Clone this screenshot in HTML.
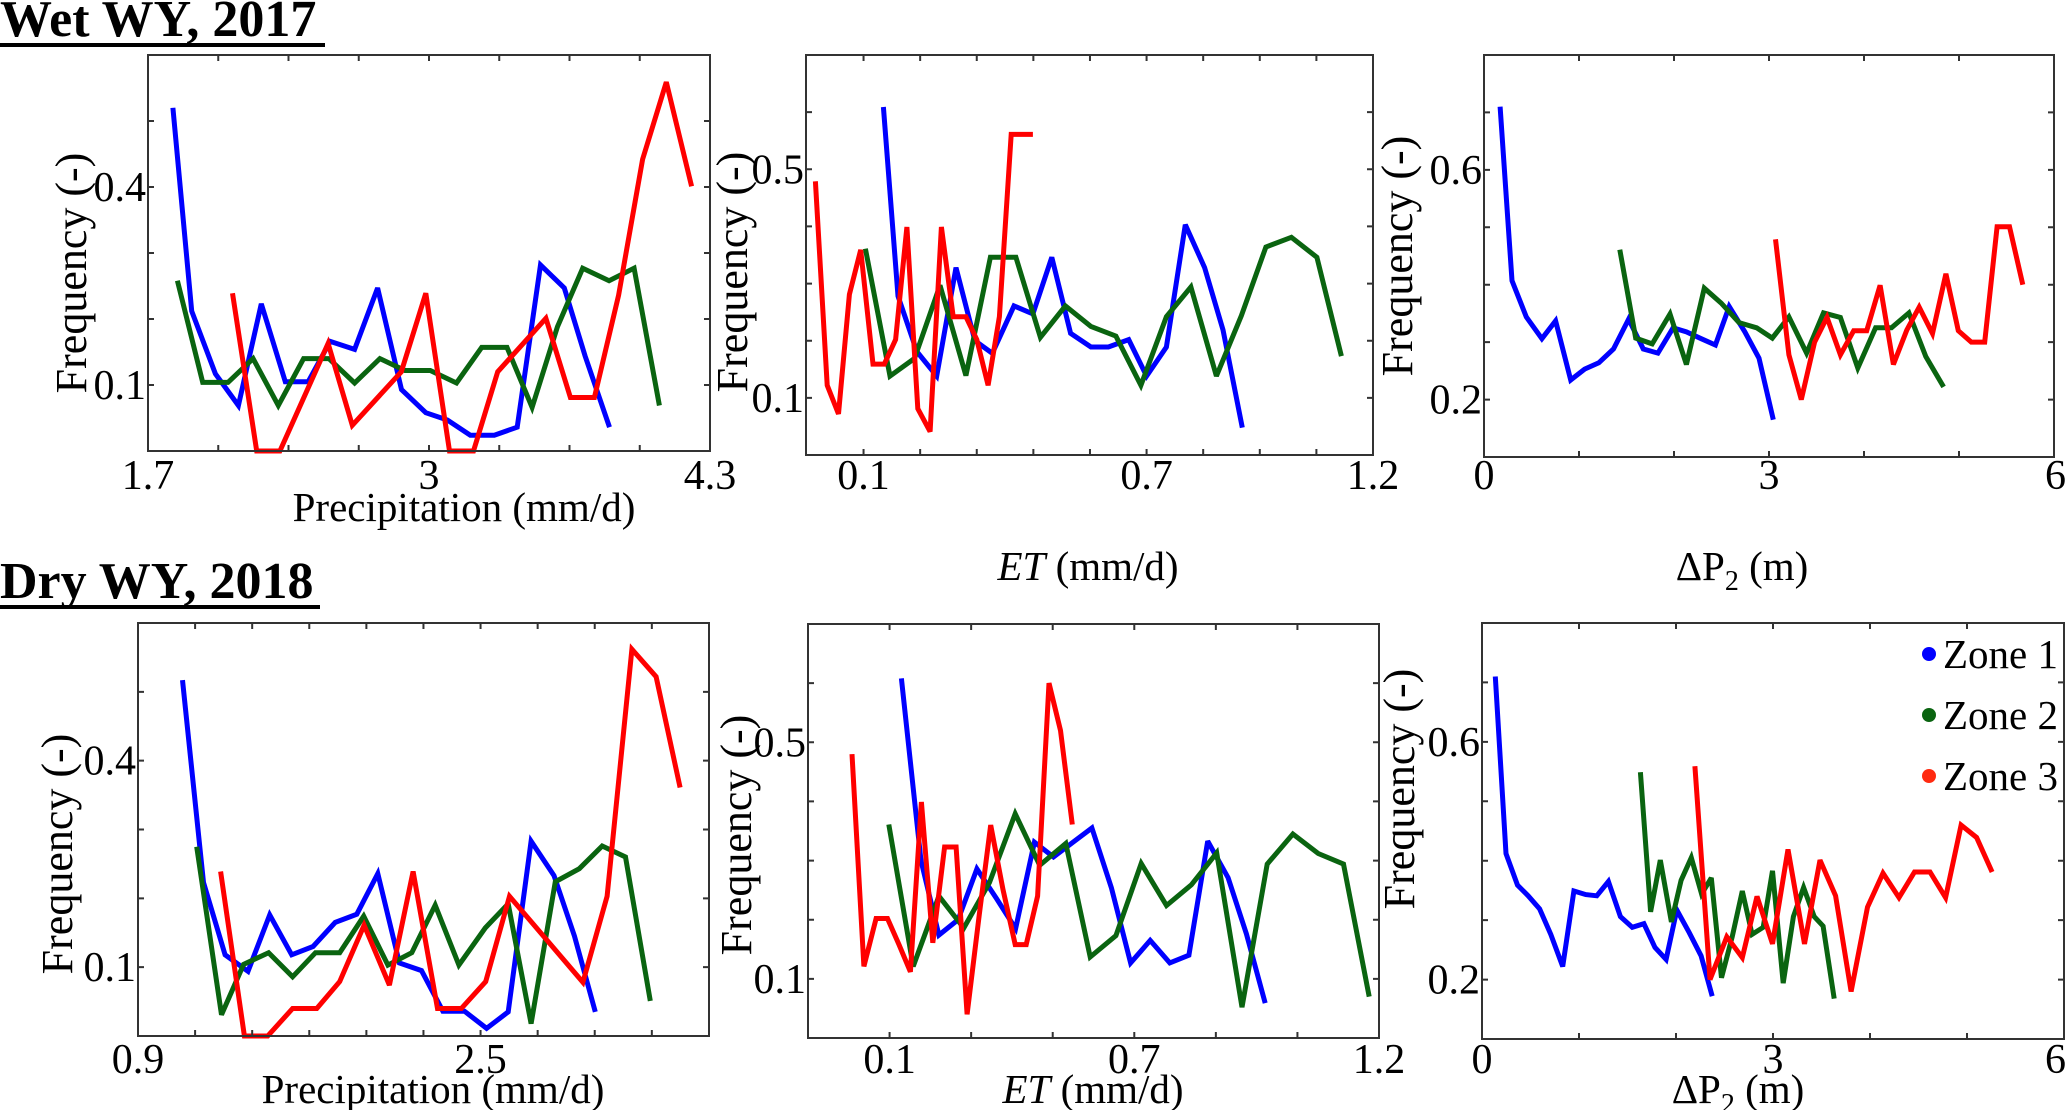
<!DOCTYPE html>
<html><head><meta charset="utf-8"><style>
html,body{margin:0;padding:0;background:#fff;}
svg{display:block;font-family:"Liberation Serif",serif;}
</style></head><body>
<svg id="fig" width="2067" height="1110" viewBox="0 0 2067 1110" xmlns="http://www.w3.org/2000/svg">
<text x="0" y="36" font-size="52" font-weight="bold">Wet WY, 2017</text>
<rect x="0" y="43" width="325" height="4" fill="#000"/>
<text x="0" y="598" font-size="52" font-weight="bold">Dry WY, 2018</text>
<rect x="0" y="605" width="320" height="4" fill="#000"/>
<g>
<circle cx="1929" cy="654" r="7" fill="#0000ff"/>
<text x="1943" y="668" font-size="41">Zone 1</text>
<circle cx="1929" cy="715" r="7" fill="#0a6410"/>
<text x="1943" y="729" font-size="41">Zone 2</text>
<circle cx="1929" cy="776" r="7" fill="#ff2a10"/>
<text x="1943" y="790" font-size="41">Zone 3</text>
</g>
</svg>
<script>
// ---- data (value units) ----
const p1BlueX=[1.815,1.902,2.012,2.118,2.224,2.335,2.441,2.543,2.656,2.762,2.873,2.985,3.085,3.191,3.302,3.408,3.516,3.626,3.722,3.835];
const p1BlueY=[0.520,0.212,0.117,0.069,0.223,0.105,0.105,0.166,0.154,0.247,0.093,0.058,0.047,0.024,0.024,0.036,0.282,0.247,0.144,0.036];
const p1GreenX=[1.836,1.953,2.070,2.186,2.303,2.420,2.537,2.656,2.773,2.889,3.006,3.127,3.244,3.361,3.477,3.594,3.711,3.833,3.949,4.066];
const p1GreenY=[0.258,0.104,0.104,0.140,0.069,0.140,0.140,0.103,0.140,0.122,0.122,0.103,0.157,0.157,0.066,0.188,0.277,0.258,0.277,0.069];
const p1RedX=[2.091,2.203,2.310,2.533,2.645,2.872,2.985,3.095,3.206,3.318,3.541,3.654,3.765,3.877,3.988,4.098,4.215];
const p1RedY=[0.239,0,0,0.163,0.039,0.120,0.239,0,0,0.120,0.201,0.081,0.081,0.236,0.442,0.559,0.401];

const p2BlueX=[0.142,0.173,0.213,0.255,0.296,0.336,0.373,0.419,0.459,0.499,0.539,0.582,0.619,0.662,0.700,0.742,0.782,0.823,0.862,0.903];
const p2BlueY=[0.609,0.278,0.181,0.138,0.328,0.200,0.178,0.261,0.247,0.346,0.213,0.189,0.189,0.202,0.138,0.189,0.403,0.328,0.219,0.048];
const p2GreenX=[0.104,0.156,0.208,0.262,0.317,0.369,0.423,0.475,0.528,0.582,0.635,0.688,0.742,0.794,0.848,0.901,0.953,1.007,1.061,1.113];
const p2GreenY=[0.361,0.138,0.169,0.297,0.139,0.346,0.346,0.206,0.261,0.225,0.208,0.122,0.242,0.294,0.138,0.244,0.364,0.381,0.346,0.173];
const p2RedX=[-0.002,0.023,0.047,0.070,0.094,0.120,0.144,0.168,0.192,0.215,0.241,0.265,0.290,0.317,0.340,0.364,0.388,0.413,0.459];
const p2RedY=[0.479,0.122,0.072,0.281,0.359,0.159,0.159,0.202,0.399,0.081,0.041,0.399,0.242,0.242,0.202,0.122,0.242,0.561,0.561];

const p3BlueX=[0.169,0.295,0.445,0.609,0.754,0.913,1.059,1.208,1.363,1.522,1.677,1.831,1.991,2.131,2.286,2.436,2.581,2.745,2.895,3.045];
const p3BlueY=[0.710,0.407,0.344,0.306,0.337,0.234,0.253,0.264,0.288,0.340,0.288,0.281,0.325,0.318,0.306,0.295,0.362,0.318,0.272,0.165];
const p3GreenX=[1.429,1.597,1.771,1.958,2.131,2.319,2.497,2.684,2.871,3.035,3.209,3.396,3.574,3.752,3.935,4.122,4.290,4.473,4.651,4.838];
const p3GreenY=[0.461,0.307,0.297,0.349,0.261,0.394,0.368,0.334,0.325,0.307,0.344,0.281,0.351,0.343,0.255,0.325,0.325,0.351,0.275,0.222];
const p3RedX=[3.068,3.209,3.340,3.480,3.611,3.752,3.892,4.028,4.169,4.309,4.450,4.581,4.721,4.862,4.993,5.129,5.270,5.401,5.532,5.672];
const p3RedY=[0.479,0.278,0.200,0.300,0.343,0.278,0.320,0.320,0.399,0.261,0.321,0.361,0.315,0.419,0.320,0.300,0.300,0.501,0.501,0.400];

const p4BlueX=[1.108,1.206,1.307,1.414,1.515,1.618,1.718,1.821,1.922,2.020,2.121,2.224,2.324,2.425,2.528,2.629,2.736,2.843,2.939,3.036];
const p4BlueY=[0.517,0.223,0.118,0.094,0.176,0.118,0.130,0.165,0.177,0.236,0.106,0.095,0.036,0.036,0.011,0.035,0.283,0.233,0.145,0.035];
const p4GreenX=[1.174,1.290,1.393,1.510,1.622,1.729,1.842,1.954,2.067,2.179,2.288,2.399,2.522,2.629,2.736,2.849,2.961,3.068,3.177,3.293];
const p4GreenY=[0.275,0.031,0.104,0.121,0.086,0.121,0.121,0.174,0.103,0.121,0.190,0.103,0.157,0.192,0.018,0.224,0.243,0.276,0.260,0.051];
const p4RedX=[1.286,1.397,1.506,1.622,1.735,1.842,1.956,2.074,2.185,2.299,2.410,2.524,2.635,2.978,3.091,3.207,3.320,3.432];
const p4RedY=[0.239,0,0,0.040,0.040,0.079,0.161,0.074,0.239,0.040,0.040,0.079,0.203,0.078,0.203,0.562,0.522,0.361];

const p5BlueX=[0.129,0.177,0.221,0.268,0.314,0.362,0.409,0.455,0.502,0.548,0.596,0.644,0.691,0.739,0.787,0.834,0.880,0.930,0.975,1.021];
const p5BlueY=[0.608,0.300,0.174,0.200,0.286,0.236,0.185,0.331,0.306,0.330,0.355,0.254,0.127,0.165,0.127,0.140,0.333,0.271,0.176,0.059];
const p5GreenX=[0.098,0.158,0.221,0.282,0.345,0.408,0.468,0.532,0.592,0.655,0.717,0.779,0.840,0.902,0.964,1.026,1.089,1.151,1.213,1.276];
const p5GreenY=[0.361,0.121,0.240,0.186,0.263,0.379,0.292,0.329,0.137,0.173,0.295,0.224,0.259,0.313,0.052,0.294,0.345,0.312,0.294,0.070];
const p5RedX=[0.008,0.037,0.067,0.095,0.123,0.151,0.178,0.206,0.235,0.263,0.290,0.320,0.348,0.378,0.408,0.435,0.463,0.491,0.519,0.548];
const p5RedY=[0.480,0.121,0.202,0.202,0.158,0.112,0.399,0.161,0.323,0.323,0.040,0.209,0.360,0.251,0.158,0.158,0.240,0.600,0.520,0.361];

const p6BlueX=[0.137,0.247,0.366,0.476,0.594,0.709,0.832,0.947,1.070,1.184,1.303,1.427,1.550,1.669,1.783,1.898,2.008,2.136,2.259,2.373];
const p6BlueY=[0.710,0.412,0.359,0.341,0.319,0.276,0.222,0.349,0.343,0.341,0.365,0.306,0.288,0.294,0.254,0.234,0.317,0.279,0.240,0.172];
const p6GreenX=[1.633,1.738,1.838,1.953,2.053,2.158,2.264,2.364,2.469,2.579,2.684,2.785,2.899,2.995,3.105,3.210,3.315,3.425,3.517,3.631];
const p6GreenY=[0.549,0.314,0.401,0.297,0.367,0.405,0.344,0.371,0.203,0.272,0.349,0.276,0.288,0.383,0.194,0.306,0.355,0.306,0.290,0.168];
const p6RedX=[2.195,2.351,2.524,2.684,2.835,2.995,3.155,3.325,3.485,3.645,3.805,3.974,4.134,4.299,4.459,4.619,4.779,4.939,5.099,5.259];
const p6RedY=[0.559,0.200,0.272,0.237,0.340,0.260,0.419,0.260,0.401,0.341,0.180,0.322,0.379,0.338,0.381,0.381,0.338,0.460,0.439,0.381];

// tick values and labels
const p1XTicks=[1.7,2.025,2.35,2.675,3.0,3.325,3.65,3.975,4.3];
const p1XTickLabels=[["1.7",1.7],["3",3.0],["4.3",4.3]];
const p1YTicks=[0.1,0.2,0.3,0.4,0.5];
const p1YTickLabels=[["0.1",0.1],["0.4",0.4]];
const p2XTicks=[0.1,0.22,0.34,0.46,0.58,0.7,0.82,0.94,1.06,1.18];
const p2XTickLabels=[["0.1",0.1],["0.7",0.7],["1.2",1.18]];
const p2YTicks=[0.1,0.2,0.3,0.4,0.5,0.6];
const p2YTickLabels=[["0.1",0.1],["0.5",0.5]];
const p3XTicks=[1,2,3,4,5];
const p3XTickLabels=[["0",0],["3",3],["6",6]];
const p3YTicks=[0.2,0.3,0.4,0.5,0.6,0.7];
const p3YTickLabels=[["0.2",0.2],["0.6",0.6]];
const p4XTicks=[1.1667,1.4333,1.7,1.9667,2.2333,2.5,2.7667,3.0333,3.3];
const p4XTickLabels=[["0.9",0.9],["2.5",2.5]];
const p4YTicks=[0.1,0.2,0.3,0.4,0.5];
const p4YTickLabels=[["0.1",0.1],["0.4",0.4]];
const p5XTicks=[0.1,0.3,0.5,0.7,0.9,1.1];
const p5XTickLabels=[["0.1",0.1],["0.7",0.7],["1.2",1.3]];
const p5YTicks=[0.1,0.2,0.3,0.4,0.5,0.6];
const p5YTickLabels=[["0.1",0.1],["0.5",0.5]];
const p6XTicks=[1,2,3,4,5];
const p6XTickLabels=[["0",0],["3",3],["6",6]];
const p6YTicks=[0.2,0.3,0.4,0.5,0.6,0.7];
const p6YTickLabels=[["0.2",0.2],["0.6",0.6]];

const NS="http://www.w3.org/2000/svg";
const svg=document.getElementById('fig');
const COLORS={blue:"#0000ff",green:"#0a6410",red:"#ff0000"};

function mk(tag,attrs,parent){const e=document.createElementNS(NS,tag);for(const k in attrs)e.setAttribute(k,attrs[k]);(parent||svg).appendChild(e);return e;}

const panels=[
 {id:"wet-precip",L:148,R:710,T:55,B:451,xd:[1.7,4.3],yd:[0,0.6],xt:p1XTicks,xl:p1XTickLabels,yt:p1YTicks,yl:p1YTickLabels,
  series:[["blue",p1BlueX,p1BlueY],["green",p1GreenX,p1GreenY],["red",p1RedX,p1RedY]],xlab:"precip",xlx:464,xly:507,ylx:71,yly:273,tly:475},
 {id:"wet-et",L:806,R:1373,T:55,B:455,xd:[-0.022,1.18],yd:[0,0.7],xt:p2XTicks,xl:p2XTickLabels,yt:p2YTicks,yl:p2YTickLabels,
  series:[["blue",p2BlueX,p2BlueY],["green",p2GreenX,p2GreenY],["red",p2RedX,p2RedY]],xlab:"et",xlx:1088,xly:566,ylx:732,yly:272,tly:475},
 {id:"wet-dp2",L:1484,R:2054,T:55,B:457,xd:[0,6],yd:[0.1,0.8],xt:p3XTicks,xl:p3XTickLabels,yt:p3YTicks,yl:p3YTickLabels,
  series:[["blue",p3BlueX,p3BlueY],["green",p3GreenX,p3GreenY],["red",p3RedX,p3RedY]],xlab:"dp",xlx:1742,xly:566,ylx:1397,yly:256,tly:475,edge:true},
 {id:"dry-precip",L:138,R:709,T:623,B:1036,xd:[0.9,3.567],yd:[0,0.6],xt:p4XTicks,xl:p4XTickLabels,yt:p4YTicks,yl:p4YTickLabels,
  series:[["blue",p4BlueX,p4BlueY],["green",p4GreenX,p4GreenY],["red",p4RedX,p4RedY]],xlab:"precip",xlx:433,xly:1089,ylx:57,yly:854,tly:1059},
 {id:"dry-et",L:808,R:1379,T:624,B:1038,xd:[-0.1,1.3],yd:[0,0.7],xt:p5XTicks,xl:p5XTickLabels,yt:p5YTicks,yl:p5YTickLabels,
  series:[["blue",p5BlueX,p5BlueY],["green",p5GreenX,p5GreenY],["red",p5RedX,p5RedY]],xlab:"et",xlx:1093,xly:1089,ylx:736,yly:835,tly:1059},
 {id:"dry-dp2",L:1482,R:2064,T:623,B:1039,xd:[0,6],yd:[0.1,0.8],xt:p6XTicks,xl:p6XTickLabels,yt:p6YTicks,yl:p6YTickLabels,
  series:[["blue",p6BlueX,p6BlueY],["green",p6GreenX,p6GreenY],["red",p6RedX,p6RedY]],xlab:"dp",xlx:1738,xly:1089,ylx:1399,yly:789,tly:1059,edge:true}
];

panels.forEach(p=>{
  const g=mk('g',{});
  
  
  const sx=v=>p.L+(v-p.xd[0])/(p.xd[1]-p.xd[0])*(p.R-p.L);
  const sy=v=>p.B-(v-p.yd[0])/(p.yd[1]-p.yd[0])*(p.B-p.T);
  p.series.forEach(([c,xs,ys])=>{
    const pts=xs.map((x,i)=>sx(x).toFixed(1)+","+sy(ys[i]).toFixed(1)).join(" ");
    const pl=mk('polyline',{points:pts,fill:"none",stroke:COLORS[c],"stroke-width":5,"stroke-linejoin":"miter","stroke-miterlimit":3},g);
    
    
  });
  const fr=mk('rect',{x:p.L,y:p.T,width:p.R-p.L,height:p.B-p.T,fill:"none",stroke:"#333","stroke-width":2},g);
  
  
  let d="";
  p.xt.forEach(v=>{const x=sx(v);d+=`M${x},${p.B}v-6M${x},${p.T}v6`;});
  p.yt.forEach(v=>{const y=sy(v);d+=`M${p.L},${y}h6M${p.R},${y}h-6`;});
  const tk=mk('path',{d:d,stroke:"#333","stroke-width":2,fill:"none"},g);
  
  
  p.xl.forEach(([s,v],i)=>{
    const last=(p.edge && i===p.xl.length-1);
    const t=mk('text',{x:last?2066:sx(v),y:p.tly+14,"font-size":42,"text-anchor":last?"end":"middle"},g);
    t.textContent=s;
    
    
  });
  p.yl.forEach(([s,v])=>{
    const t=mk('text',{x:p.L-2,y:sy(v)+14,"font-size":42,"text-anchor":"end"},g);
    t.textContent=s;
    
    
  });
  const yl=mk('text',{x:0,y:0,"font-size":44,"text-anchor":"middle",transform:`translate(${p.ylx+15},${p.yly}) rotate(-90)`},g);
  yl.textContent="Frequency (-)";
  
  
  const xl=mk('text',{x:p.xlx,y:p.xly+14,"font-size":41,"text-anchor":"middle"},g);
  if(p.xlab==="precip"){xl.textContent="Precipitation (mm/d)";}
  else if(p.xlab==="et"){xl.innerHTML='<tspan font-style="italic">ET</tspan> (mm/d)';}
  else {xl.innerHTML='ΔP<tspan font-size="28" dy="10">2</tspan><tspan dy="-10"> (m)</tspan>';}
  
  
});
</script>
</body></html>
